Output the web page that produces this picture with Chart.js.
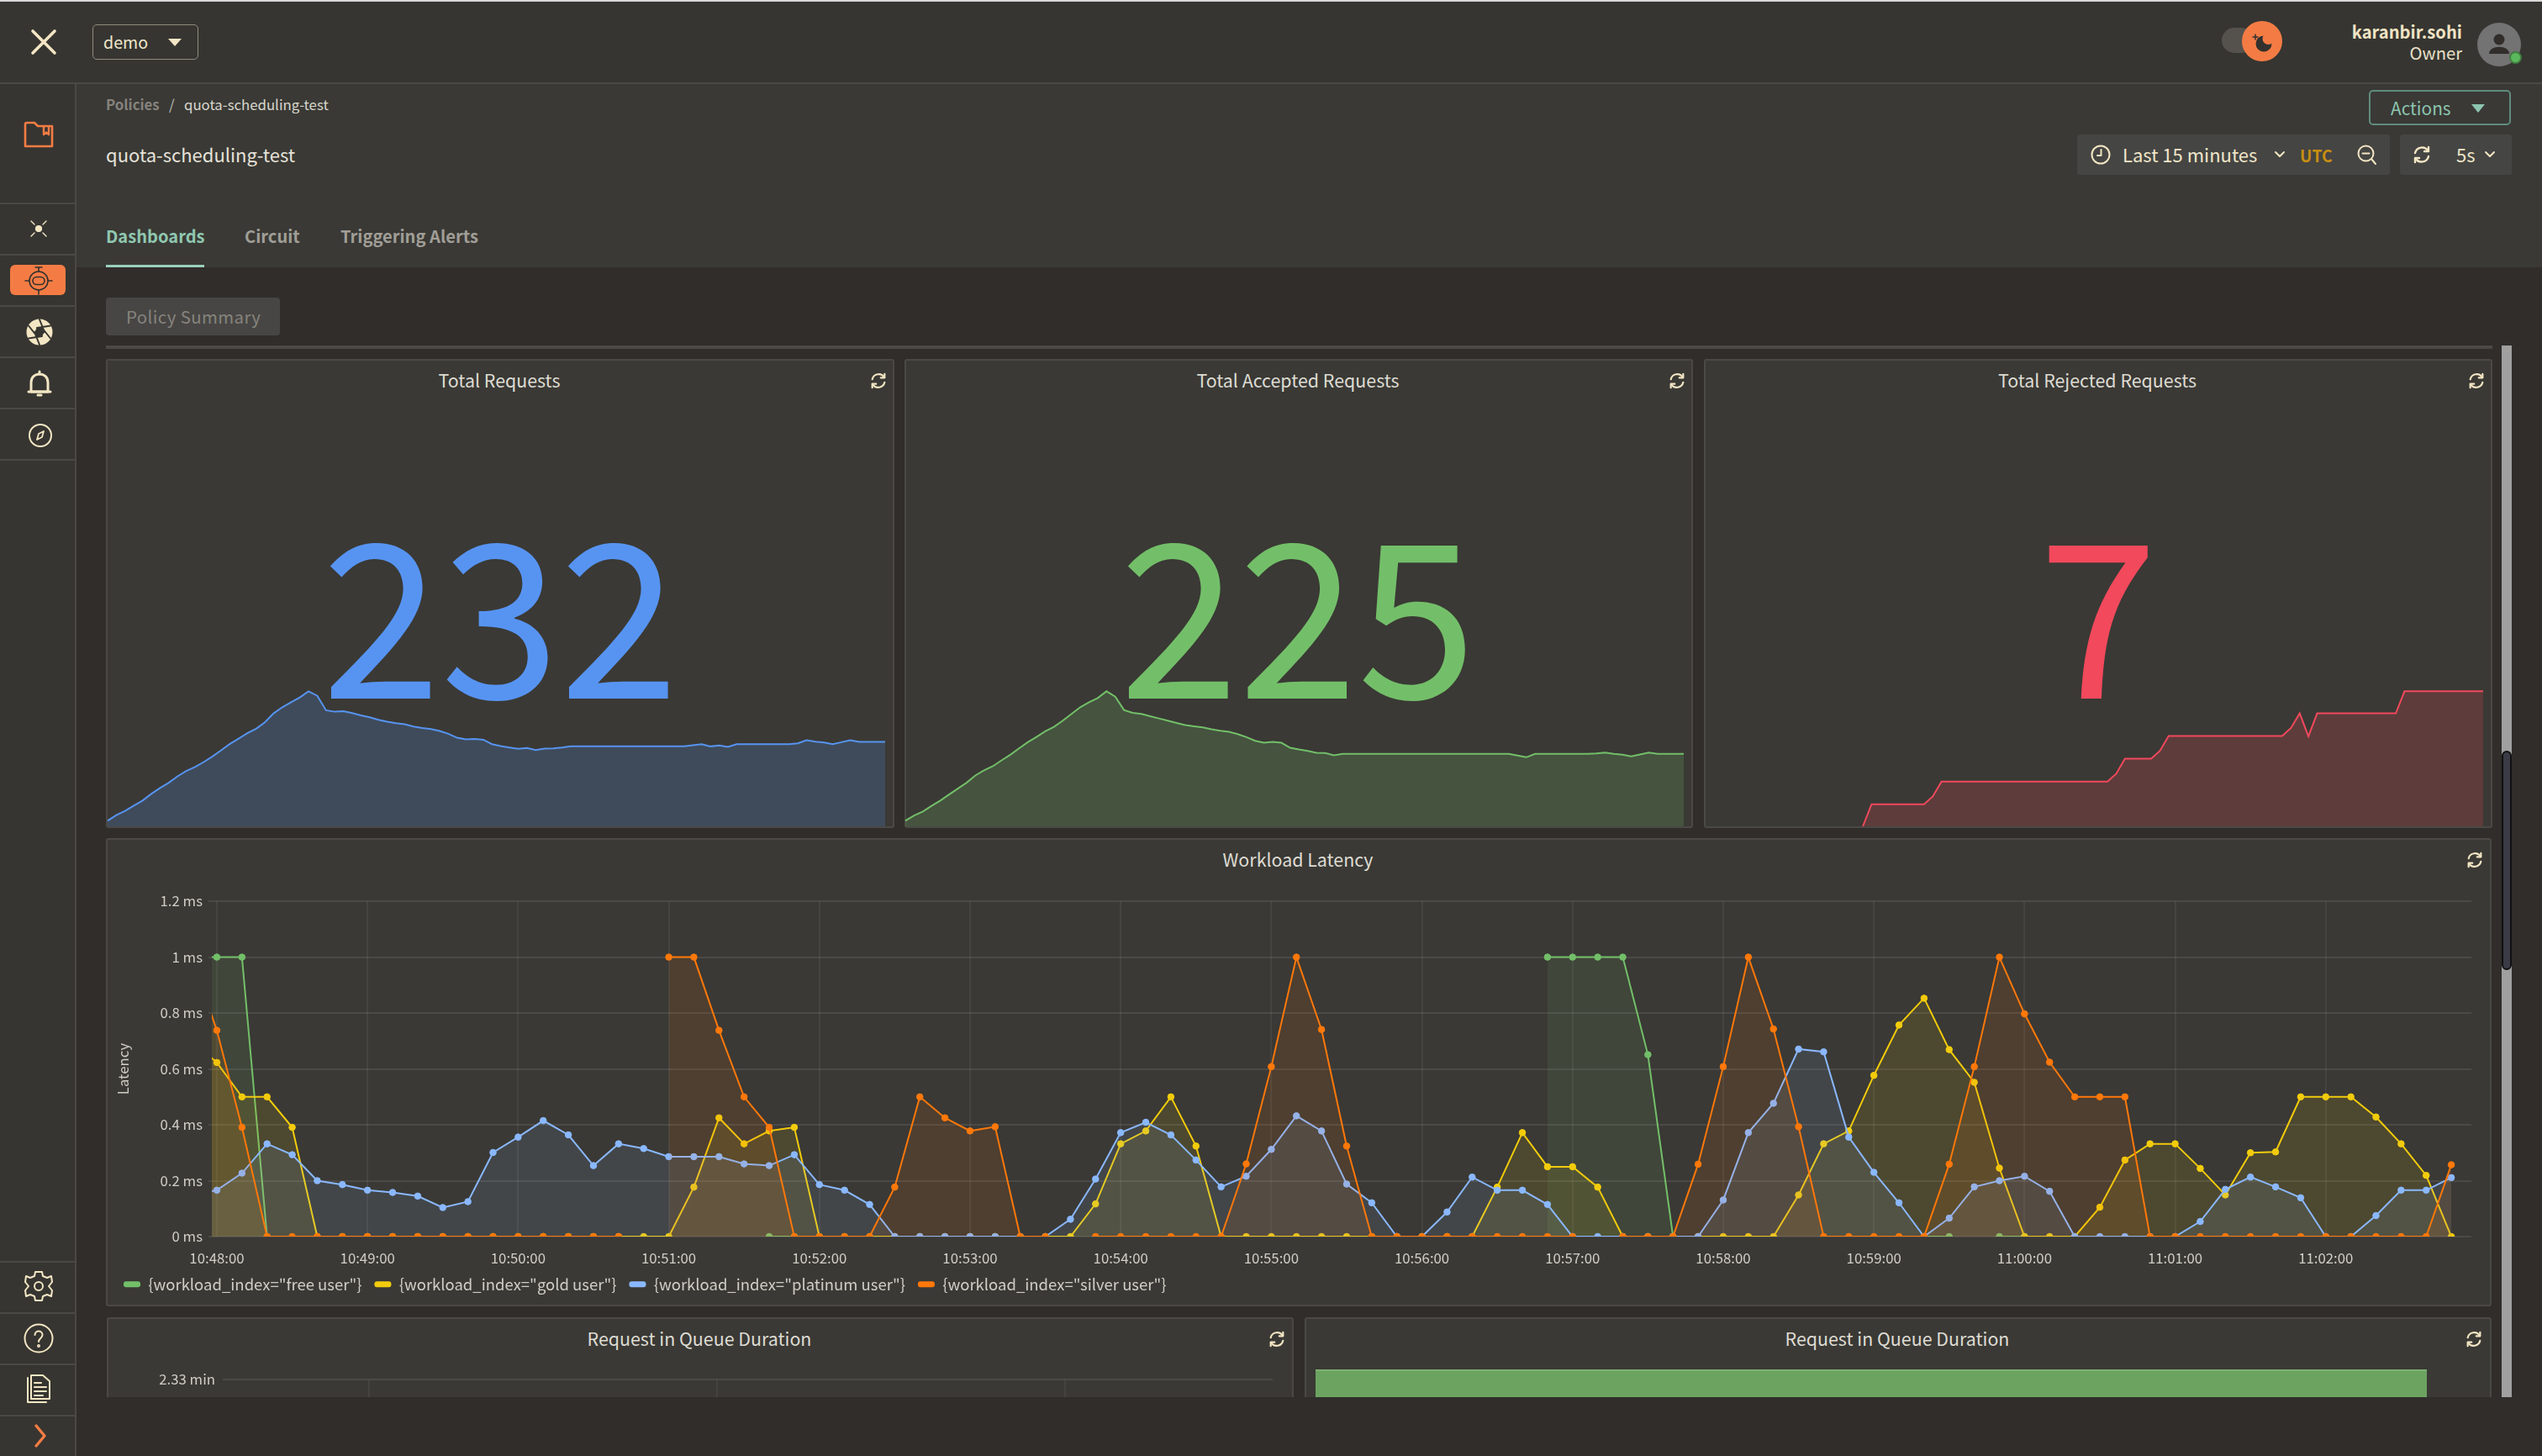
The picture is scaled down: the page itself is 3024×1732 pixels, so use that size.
<!DOCTYPE html>
<html>
<head>
<meta charset="utf-8">
<title>quota-scheduling-test</title>
<script src="https://cdn.jsdelivr.net/npm/chart.js@4"></script>
<style>
  html, body { margin: 0; width: 3024px; height: 1732px; overflow: hidden; background: #302d2a; font-family: "Noto Sans CJK SC", "Noto Sans", sans-serif; color: #e6e3da; }
  .abs { position: absolute; white-space: nowrap; }
  .panel { position: absolute; box-sizing: border-box; background: #3a3935; border: 2px solid #4a4945; border-radius: 3px; }
  .ptitle { position: absolute; font-size: 21.4px; line-height: 30px; transform: translateX(-50%); white-space: nowrap; color: #dedcd3; }
  .big { position: absolute; font-size: 255px; line-height: 300px; transform: translateX(-50%); white-space: nowrap; }
  .sep { position: absolute; left: 0; width: 89px; height: 2px; background: #4a4945; }
  svg { position: absolute; overflow: visible; fill: none; stroke: #f3e6c4; stroke-width: 2.4; stroke-linecap: round; stroke-linejoin: round; }
  canvas { position: absolute; }
</style>
</head>
<body>
<svg width="0" height="0" style="display:none">
  <symbol id="refresh" viewBox="0 0 24 24" overflow="visible">
    <path d="M4 10 A8.5 8.5 0 0 1 19.5 7.5"/><path d="M20 3 L20 8 L15 8"/>
    <path d="M20 14 A8.5 8.5 0 0 1 4.5 16.5"/><path d="M4 21 L4 16 L9 16"/>
  </symbol>
</svg>

<!-- top bar -->
<div class="abs" style="left:0;top:0;width:3024px;height:2px;background:#d8d8d8"></div>
<div class="abs" style="left:0;top:2px;width:3024px;height:96px;background:#363531"></div>
<div class="abs" style="left:0;top:98px;width:3024px;height:2px;background:#4a4945"></div>
<svg style="left:38px;top:36px" width="28" height="28" stroke-width="3.4"><path d="M1 1 L27 27 M27 1 L1 27" style="stroke-width:3.6"/></svg>
<div class="abs" style="left:110px;top:29px;width:126px;height:42px;box-sizing:border-box;border:1.5px solid #8f8b7c;border-radius:5px"></div>
<div class="abs" style="left:123px;top:33px;font-size:19.6px;line-height:34px;color:#f0e6c8">demo</div>
<svg style="left:200px;top:46px" width="16" height="9"><path d="M0 0 L16 0 L8 9 Z" style="fill:#f3e6c4;stroke:none"/></svg>

<div class="abs" style="left:2643px;top:33px;width:38px;height:30px;background:#55524d;border-radius:15px"></div>
<div class="abs" style="left:2667px;top:25px;width:48px;height:48px;background:#f47c44;border-radius:50%"></div>
<svg style="left:2676px;top:35px" width="30" height="30"><circle cx="17" cy="17" r="9.5" style="fill:#33312e;stroke:none"/><circle cx="22.5" cy="11" r="7" style="fill:#f47c44;stroke:none"/><path d="M7 6 L7 12 M4 9 L10 9" style="stroke:#33312e;stroke-width:1.5"/></svg>
<div class="abs" style="right:95px;top:22px;font-size:20.2px;line-height:32px;font-weight:700;color:#f1e4c4">karanbir.sohi</div>
<div class="abs" style="right:95px;top:47px;font-size:20.2px;line-height:32px;color:#e8e0c8">Owner</div>
<div class="abs" style="left:2947px;top:27px;width:52px;height:52px;background:#737373;border-radius:50%"></div>
<svg style="left:2958px;top:38px" width="30" height="30"><circle cx="15" cy="9" r="6.5" style="fill:#302d2a;stroke:none"/><path d="M3 26 C3 15 27 15 27 26 Z" style="fill:#302d2a;stroke:none"/></svg>
<div class="abs" style="left:2985px;top:61px;width:15px;height:15px;background:#5cb85c;border:2px solid #3f7d3f;border-radius:50%;box-sizing:border-box"></div>

<!-- sidebar -->
<div class="abs" style="left:0;top:100px;width:89px;height:1632px;background:#363531"></div>
<div class="abs" style="left:89px;top:100px;width:2px;height:1632px;background:#4a4945"></div>
<div class="sep" style="top:241px"></div><div class="sep" style="top:302px"></div><div class="sep" style="top:363px"></div>
<div class="sep" style="top:424px"></div><div class="sep" style="top:485px"></div><div class="sep" style="top:546px"></div>
<div class="sep" style="top:1500px"></div><div class="sep" style="top:1561px"></div><div class="sep" style="top:1622px"></div><div class="sep" style="top:1683px"></div>
<svg style="left:28px;top:144px" width="36" height="32"><path d="M2 4 Q2 2 4 2 L13 2 L17 6 L34 6 L34 30 L2 30 Z" style="stroke:#f47c44;stroke-width:2.6"/><path d="M24 7 L24 16 L27 13.5 L30 16 L30 7" style="stroke:#f47c44"/></svg>
<svg style="left:36px;top:262px" width="20" height="20"><circle cx="10" cy="10" r="3.5" style="fill:#f3e6c4;stroke-width:1.2"/><path d="M1 1 L5 5 M19 1 L15 5 M1 19 L5 15 M19 19 L15 15" style="stroke-width:1.4"/></svg>
<div class="abs" style="left:12px;top:315px;width:66px;height:36px;background:#f47c44;border-radius:6px"></div>
<svg style="left:29px;top:317px" width="34" height="34"><g style="stroke:#33312e;stroke-width:1.6"><circle cx="17" cy="17" r="11"/><path d="M17 1 L17 6 M13 1 L21 1 M17 28 L17 33 M1 17 L6 17 M28 17 L33 17"/><rect x="10" y="12.5" width="14" height="9" rx="4.5"/></g></svg>
<svg style="left:31px;top:379px" width="32" height="32"><circle cx="16" cy="16" r="15.5" style="fill:#f3e6c4;stroke:none"/><path d="M16 1 L22 16 M29 8.5 L13 11 M29 23.5 L19 11 M16 31 L10 16 M3 23.5 L19 21 M3 8.5 L13 21" style="stroke:#363531;stroke-width:2"/><path d="M19 11 L22 16 L19 21 L13 21 L10 16 L13 11 Z" style="fill:#363531;stroke:none"/></svg>
<svg style="left:34px;top:442px" width="26" height="30"><path d="M3 24 L3 13 C3 6 8 3 13 3 C18 3 23 6 23 13 L23 24 Z" style="stroke-width:3"/><path d="M0 24 L26 24 M13 0 L13 3 M11 28 L15 28" style="stroke-width:3"/></svg>
<svg style="left:34px;top:504px" width="28" height="28"><circle cx="14" cy="14" r="13" style="stroke-width:2"/><path d="M18 9 L16 16 L10 19 L12 12 Z" style="stroke-width:1.8"/></svg>
<svg style="left:29px;top:1512px" width="34" height="36"><path d="M13 1 L21 1 L22 6 L27 8 L32 6 L33 13 L29 18 L33 23 L32 30 L27 28 L22 30 L21 35 L13 35 L12 30 L7 28 L2 30 L1 23 L5 18 L1 13 L2 6 L7 8 L12 6 Z" style="stroke-width:2"/><circle cx="17" cy="18" r="5" style="stroke-width:2"/></svg>
<svg style="left:29px;top:1575px" width="34" height="34"><circle cx="17" cy="17" r="16.5" style="stroke-width:2"/><path d="M12.5 13 C12.5 7 21.5 7 21.5 13 C21.5 17 17 17 17 21" style="stroke-width:2"/><circle cx="17" cy="26" r=".8"/></svg>
<svg style="left:31px;top:1635px" width="30" height="34"><path d="M2 4 L2 33 L24 33" style="stroke-width:2"/><path d="M6 1 L20 1 L28 8 L28 29 L6 29 Z" style="stroke-width:2"/><path d="M10 10 L18 10 M10 15 L24 15 M10 20 L24 20 M10 25 L20 25" style="stroke-width:2"/></svg>
<svg style="left:41px;top:1695px" width="14" height="26"><path d="M2 1 L12 13 L2 25" style="stroke:#f47c44;stroke-width:3.4"/></svg>

<!-- page header -->
<div class="abs" style="left:91px;top:100px;width:2933px;height:218px;background:#3a3935"></div>
<div class="abs" style="left:126px;top:110px;font-size:16.8px;line-height:28px;font-weight:700;color:#85837d">Policies</div>
<div class="abs" style="left:201px;top:110px;font-size:17px;line-height:28px;color:#bdbbb2">/</div>
<div class="abs" style="left:219px;top:110px;font-size:16.8px;line-height:28px;color:#d8d6cc">quota-scheduling-test</div>
<div class="abs" style="left:126px;top:165px;font-size:22px;line-height:36px;color:#e6e3da">quota-scheduling-test</div>
<div class="abs" style="left:126px;top:264px;font-size:20.1px;line-height:34px;font-weight:700;color:#8fc7b0">Dashboards</div>
<div class="abs" style="left:291px;top:264px;font-size:20.1px;line-height:34px;font-weight:700;color:#a09e97">Circuit</div>
<div class="abs" style="left:405px;top:264px;font-size:20.1px;line-height:34px;font-weight:700;color:#a09e97">Triggering Alerts</div>
<div class="abs" style="left:126px;top:315px;width:117px;height:3px;background:#9ad0bb"></div>

<div class="abs" style="left:2818px;top:107px;width:169px;height:42px;box-sizing:border-box;border:2px solid #5f8c7d;border-radius:5px"></div>
<div class="abs" style="left:2844px;top:112px;font-size:20.8px;line-height:32px;color:#8cc5b0">Actions</div>
<svg style="left:2940px;top:124px" width="16" height="10"><path d="M0 0 L16 0 L8 10 Z" style="fill:#8cc5b0;stroke:none"/></svg>

<div class="abs" style="left:2471px;top:160px;width:372px;height:48px;background:#454543;border-radius:3px"></div>
<div class="abs" style="left:2855px;top:160px;width:133px;height:48px;background:#454543;border-radius:3px"></div>
<svg style="left:2488px;top:173px" width="22" height="22"><circle cx="11" cy="11" r="10.5" style="stroke-width:2"/><path d="M11.5 5 L11.5 12 L7 12" style="stroke-width:2"/></svg>
<div class="abs" style="left:2525px;top:166px;font-size:22px;line-height:34px;color:#f0e6c8">Last 15 minutes</div>
<svg style="left:2707px;top:181px" width="10" height="6"><path d="M0 0 L5 5 L10 0" style="stroke-width:2"/></svg>
<div class="abs" style="left:2736px;top:168px;font-size:19.3px;line-height:34px;font-weight:700;color:#c88e10">UTC</div>
<svg style="left:2805px;top:173px" width="22" height="24"><circle cx="9.5" cy="9.5" r="9" style="stroke-width:2"/><path d="M5.5 9.5 L13.5 9.5 M16 16 L21 22" style="stroke-width:2"/></svg>
<svg style="left:2869px;top:172px" width="24" height="24"><use href="#refresh"/></svg>
<div class="abs" style="left:2922px;top:166px;font-size:22px;line-height:34px;color:#f0e6c8">5s</div>
<svg style="left:2957px;top:181px" width="10" height="6"><path d="M0 0 L5 5 L10 0" style="stroke-width:2"/></svg>

<!-- tab bar -->
<div class="abs" style="left:126px;top:354px;width:207px;height:45px;background:#474644;border-radius:4px"></div>
<div class="abs" style="left:150px;top:359px;font-size:20.4px;line-height:34px;letter-spacing:.4px;color:#85837d">Policy Summary</div>
<div class="abs" style="left:126px;top:411px;width:2839px;height:4px;background:#4a4945"></div>

<!-- everything below is cut at the end of the scroll area -->
<div class="abs" style="left:0;top:0;width:3024px;height:1662px;overflow:hidden;pointer-events:none">
  <div class="panel" style="left:126px;top:427px;width:938px;height:558px"></div>
  <div class="panel" style="left:1076px;top:427px;width:938px;height:558px"></div>
  <div class="panel" style="left:2027px;top:427px;width:938px;height:558px"></div>
  <div class="panel" style="left:126px;top:997px;width:2838px;height:557px"></div>
  <div class="panel" style="left:127px;top:1567px;width:1412px;height:200px"></div>
  <div class="panel" style="left:1552px;top:1567px;width:1412px;height:200px"></div>

  <div class="ptitle" style="left:594px;top:437px">Total Requests</div>
  <div class="ptitle" style="left:1544px;top:437px">Total Accepted Requests</div>
  <div class="ptitle" style="left:2495px;top:437px">Total Rejected Requests</div>
  <div class="ptitle" style="left:1544px;top:1007px">Workload Latency</div>
  <div class="ptitle" style="left:832px;top:1577px">Request in Queue Duration</div>
  <div class="ptitle" style="left:2257px;top:1577px">Request in Queue Duration</div>

  <svg style="left:1034px;top:442px" width="22" height="22"><use href="#refresh"/></svg>
  <svg style="left:1984px;top:442px" width="22" height="22"><use href="#refresh"/></svg>
  <svg style="left:2935px;top:442px" width="22" height="22"><use href="#refresh"/></svg>
  <svg style="left:2933px;top:1012px" width="22" height="22"><use href="#refresh"/></svg>
  <svg style="left:1508px;top:1582px" width="22" height="22"><use href="#refresh"/></svg>
  <svg style="left:2932px;top:1582px" width="22" height="22"><use href="#refresh"/></svg>

  <canvas id="spark-total" style="left:125px;top:819px" width="931" height="167"></canvas>
  <canvas id="spark-accepted" style="left:1074px;top:819px" width="932" height="167"></canvas>
  <canvas id="spark-rejected" style="left:2026px;top:819px" width="931" height="167"></canvas>

  <div class="big" style="left:595px;top:570px;color:#5794f2">232</div>
  <div class="big" style="left:1544px;top:570px;color:#73bf69">225</div>
  <div class="big" style="left:2496px;top:570px;color:#f2495c">7</div>

  <canvas id="latency-chart" style="left:132px;top:1055px" width="2830" height="492"></canvas>
  <canvas id="queue-line" style="left:160px;top:1622px" width="1354" height="200"></canvas>
  <canvas id="queue-bar" style="left:1565px;top:1629px" width="1322" height="120"></canvas>
</div>

<!-- scrollbar -->
<div class="abs" style="left:2976px;top:411px;width:12px;height:1251px;background:#a0a0a0"></div>
<div class="abs" style="left:2976px;top:893px;width:12px;height:261px;box-sizing:border-box;background:#3b3b47;border:2px solid #111;border-radius:6px"></div>

<script>
// 10 second samples, the first one falls just left of the visible window
const sampleTimes = ['10:47:50',
    '10:48:00', '10:48:10', '10:48:20', '10:48:30', '10:48:40', '10:48:50',
    '10:49:00', '10:49:10', '10:49:20', '10:49:30', '10:49:40', '10:49:50',
    '10:50:00', '10:50:10', '10:50:20', '10:50:30', '10:50:40', '10:50:50',
    '10:51:00', '10:51:10', '10:51:20', '10:51:30', '10:51:40', '10:51:50',
    '10:52:00', '10:52:10', '10:52:20', '10:52:30', '10:52:40', '10:52:50',
    '10:53:00', '10:53:10', '10:53:20', '10:53:30', '10:53:40', '10:53:50',
    '10:54:00', '10:54:10', '10:54:20', '10:54:30', '10:54:40', '10:54:50',
    '10:55:00', '10:55:10', '10:55:20', '10:55:30', '10:55:40', '10:55:50',
    '10:56:00', '10:56:10', '10:56:20', '10:56:30', '10:56:40', '10:56:50',
    '10:57:00', '10:57:10', '10:57:20', '10:57:30', '10:57:40', '10:57:50',
    '10:58:00', '10:58:10', '10:58:20', '10:58:30', '10:58:40', '10:58:50',
    '10:59:00', '10:59:10', '10:59:20', '10:59:30', '10:59:40', '10:59:50',
    '11:00:00', '11:00:10', '11:00:20', '11:00:30', '11:00:40', '11:00:50',
    '11:01:00', '11:01:10', '11:01:20', '11:01:30', '11:01:40', '11:01:50',
    '11:02:00', '11:02:10', '11:02:20', '11:02:30', '11:02:40', '11:02:50'];
const minuteTicks = ['10:48:00', '10:49:00', '10:50:00', '10:51:00', '10:52:00', '10:53:00', '10:54:00', '10:55:00',
    '10:56:00', '10:57:00', '10:58:00', '10:59:00', '11:00:00', '11:01:00', '11:02:00'];
const windowStart = '10:47:58';
const windowEnd = '11:02:58';

// latency in ms, one row per minute
const freeUser = [1,
    1, 1, 0, null, null, null,
    null, null, null, null, null, null,
    null, null, null, null, null, null,
    null, null, null, null, 0, 0,
    null, null, null, null, null, null,
    null, null, null, null, null, null,
    null, null, null, null, null, null,
    null, null, null, null, null, null,
    null, null, null, null, null, 1,
    1, 1, 1, 0.651, 0, null,
    null, null, null, null, null, null,
    null, null, 0, 0, null, 0,
    0, null, null, null, null, null,
    null, null, null, null, null, null,
    null, null, null, null, null, null];
const goldUser = [0.7,
    0.623, 0.5, 0.5, 0.391, 0, 0,
    0, 0, 0, 0, 0, 0,
    0, 0, 0, 0, 0, 0,
    0, 0.177, 0.425, 0.332, 0.378, 0.391,
    0, 0, 0, 0, 0, 0,
    0, 0, 0, 0, 0, 0.117,
    0.332, 0.378, 0.5, 0.324, 0, 0,
    0, 0, 0, 0, 0, 0,
    0, 0, 0, 0.177, 0.372, 0.25,
    0.25, 0.177, 0, 0, 0, 0,
    0, 0, 0, 0.149, 0.332, 0.378,
    0.577, 0.757, 0.853, 0.669, 0.552, 0.245,
    0, 0, 0, 0.105, 0.274, 0.332,
    0.332, 0.244, 0.149, 0.3, 0.303, 0.5,
    0.5, 0.5, 0.428, 0.332, 0.219, 0];
const platinumUser = [0.15,
    0.166, 0.227, 0.332, 0.293, 0.2, 0.186,
    0.166, 0.158, 0.145, 0.104, 0.125, 0.301,
    0.356, 0.415, 0.364, 0.254, 0.332, 0.315,
    0.286, 0.286, 0.286, 0.26, 0.254, 0.293,
    0.186, 0.166, 0.115, 0, 0, 0,
    0, 0, 0, 0, 0.062, 0.206,
    0.372, 0.409, 0.364, 0.274, 0.178, 0.216,
    0.312, 0.432, 0.378, 0.188, 0.121, 0,
    0, 0.088, 0.213, 0.166, 0.166, 0.115,
    0, 0, 0, 0, 0, 0,
    0.131, 0.372, 0.477, 0.671, 0.661, 0.356,
    0.23, 0.121, 0, 0.066, 0.178, 0.2,
    0.216, 0.162, 0, 0, 0, 0,
    0, 0.054, 0.169, 0.213, 0.178, 0.139,
    0, 0, 0.075, 0.166, 0.166, 0.211];
const silverUser = [1,
    0.738, 0.391, 0, 0, 0, 0,
    0, 0, 0, 0, 0, 0,
    0, 0, 0, 0, 0, null,
    1, 1, 0.738, 0.5, 0.391, 0,
    0, 0, 0, 0.177, 0.5, 0.425,
    0.378, 0.393, 0, 0, null, 0,
    0, 0, 0, 0, 0, 0.26,
    0.608, 1, 0.741, 0.324, 0, 0,
    0, 0, 0, 0, 0, 0,
    0, null, 0, 0, 0, 0.259,
    0.608, 1, 0.743, 0.393, 0, 0,
    0, 0, 0, 0.259, 0.608, 1,
    0.797, 0.624, 0.5, 0.5, 0.5, 0,
    0, 0, 0, 0, 0, 0,
    0, 0, 0, 0, 0, 0.257];

// request rate behind the stat panels
const totalRequests = [
    0.20, 0.40, 0.55, 0.74, 0.92, 1.16, 1.37, 1.56, 1.79, 1.98, 2.12, 2.30, 2.50, 2.72, 2.95, 3.14, 3.33, 3.49,
    3.72, 4.04, 4.26, 4.44, 4.61, 4.83, 4.67, 4.15, 4.10, 4.12, 4.05, 3.97, 3.90, 3.81, 3.74, 3.69, 3.65, 3.57,
    3.52, 3.48, 3.41, 3.31, 3.17, 3.11, 3.13, 3.10, 2.94, 2.87, 2.82, 2.77, 2.80, 2.73, 2.78, 2.79, 2.82, 2.86,
    2.86, 2.86, 2.86, 2.86, 2.86, 2.86, 2.86, 2.86, 2.86, 2.86, 2.86, 2.86, 2.86, 2.90, 2.94, 2.86, 2.89, 2.84,
    2.94, 2.94, 2.94, 2.94, 2.94, 2.94, 2.94, 2.97, 3.08, 3.03, 3.00, 2.94, 3.01, 3.08, 3.02, 3.02, 3.02, 3.02];
const acceptedRequests = [
    0.20, 0.39, 0.53, 0.73, 0.92, 1.14, 1.35, 1.56, 1.82, 2.00, 2.15, 2.36, 2.56, 2.79, 3.01, 3.20, 3.40, 3.56,
    3.78, 4.02, 4.26, 4.44, 4.59, 4.83, 4.64, 4.16, 4.06, 4.02, 3.94, 3.86, 3.78, 3.70, 3.62, 3.58, 3.54, 3.47,
    3.42, 3.38, 3.30, 3.19, 3.06, 2.99, 3.02, 2.99, 2.81, 2.75, 2.70, 2.63, 2.62, 2.54, 2.59, 2.59, 2.59, 2.59,
    2.59, 2.59, 2.59, 2.59, 2.59, 2.59, 2.59, 2.59, 2.59, 2.59, 2.59, 2.59, 2.59, 2.59, 2.59, 2.59, 2.53, 2.47,
    2.59, 2.59, 2.59, 2.59, 2.59, 2.59, 2.59, 2.61, 2.64, 2.59, 2.56, 2.50, 2.57, 2.64, 2.59, 2.59, 2.59, 2.59];
const rejectedRequests = [
    null, null, null, null, null, null, null, null, null, null, null, null, null, null, null, null, null, null,
    0, 0.79, 0.79, 0.79, 0.79, 0.79, 0.79, 0.79, 1.07, 1.60, 1.60, 1.60, 1.60, 1.60, 1.60, 1.60, 1.60, 1.60,
    1.60, 1.60, 1.60, 1.60, 1.60, 1.60, 1.60, 1.60, 1.60, 1.60, 1.60, 1.88, 2.42, 2.42, 2.42, 2.42, 2.70, 3.23,
    3.23, 3.23, 3.23, 3.23, 3.23, 3.23, 3.23, 3.23, 3.23, 3.23, 3.23, 3.23, 3.23, 3.52, 4.04, 3.22, 4.04, 4.04,
    4.04, 4.04, 4.04, 4.04, 4.04, 4.04, 4.04, 4.04, 4.83, 4.83, 4.83, 4.83, 4.83, 4.83, 4.83, 4.83, 4.83, 4.83];
const sparkMax = 4.84;

// what is left of the two cut off panels
const queueTopTick = [2.33];
const queueGridMinutes = [3, 6, 9];
const queueBarValues = [1];

const TICK_FONT = { family: '"Noto Sans CJK SC"', size: 16.8 };
const TEXT_COLOR = '#cfcdc4';

function toSeconds(t) {
    const p = t.split(':').map(Number);
    return p[0] * 3600 + p[1] * 60 + p[2];
}

function formatTime(sec) {
    const h = Math.floor(sec / 3600);
    const m = Math.floor(sec / 60) % 60;
    const s = sec % 60;
    return [h, m, s].map(v => String(v).padStart(2, '0')).join(':');
}

function latencySet(label, values, color, fill, order) {
    return {
        label: label,
        data: values.map((v, i) => ({ x: toSeconds(sampleTimes[i]), y: v })),
        borderColor: color,
        backgroundColor: fill,
        pointBackgroundColor: color,
        pointBorderColor: color,
        pointRadius: 3.8,
        pointBorderWidth: 1,
        borderWidth: 2,
        tension: 0,
        fill: 'origin',
        spanGaps: false,
        order: order
    };
}

function renderLatency() {
    new Chart(document.getElementById('latency-chart'), {
        type: 'line',
        data: {
            datasets: [
                latencySet('{workload_index="free user"}', freeUser, '#73bf69', 'rgba(115,191,105,0.1)', 4),
                latencySet('{workload_index="gold user"}', goldUser, '#f2cc0c', 'rgba(242,204,12,0.1)', 3),
                latencySet('{workload_index="platinum user"}', platinumUser, '#8ab8ff', 'rgba(138,184,255,0.1)', 2),
                latencySet('{workload_index="silver user"}', silverUser, '#ff780a', 'rgba(255,120,10,0.1)', 1)
            ]
        },
        options: {
            responsive: false,
            animation: false,
            layout: { padding: { top: 3, right: 22, bottom: 0, left: 0 } },
            plugins: {
                legend: {
                    position: 'bottom',
                    align: 'start',
                    labels: {
                        color: TEXT_COLOR,
                        font: { family: '"Noto Sans CJK SC"', size: 18.5 },
                        boxWidth: 20,
                        boxHeight: 7,
                        padding: 15,
                        useBorderRadius: true,
                        borderRadius: 3,
                        generateLabels: chart => chart.data.datasets.map((d, i) => ({
                            text: d.label, fillStyle: d.borderColor, strokeStyle: d.borderColor,
                            lineWidth: 0, borderRadius: 3, fontColor: TEXT_COLOR, datasetIndex: i
                        }))
                    }
                },
                tooltip: { enabled: false }
            },
            scales: {
                x: {
                    type: 'linear',
                    min: toSeconds(windowStart),
                    max: toSeconds(windowEnd),
                    afterBuildTicks: axis => { axis.ticks = minuteTicks.map(t => ({ value: toSeconds(t) })); },
                    afterFit: axis => { axis.height = 32.5; },
                    grid: { color: 'rgba(255,255,255,0.06)', lineWidth: 2, drawTicks: false },
                    border: { display: false },
                    ticks: {
                        color: TEXT_COLOR, font: TICK_FONT, padding: 16, maxRotation: 0, autoSkip: false,
                        callback: v => formatTime(v)
                    }
                },
                y: {
                    min: 0,
                    max: 1.2,
                    afterFit: axis => { axis.width = 120; },
                    title: { display: true, text: 'Latency', color: TEXT_COLOR, font: TICK_FONT, padding: { top: 5, bottom: 0 } },
                    grid: { color: 'rgba(255,255,255,0.09)', lineWidth: 2, tickLength: 4 },
                    border: { display: false },
                    ticks: {
                        stepSize: 0.2, color: TEXT_COLOR, font: TICK_FONT, padding: 7,
                        callback: v => `${+v.toFixed(1)} ms`
                    }
                }
            }
        }
    });
}

function renderSpark(id, values, color, fill) {
    new Chart(document.getElementById(id), {
        type: 'line',
        data: {
            labels: sampleTimes.slice(1),
            datasets: [{ data: values, borderColor: color, backgroundColor: fill, borderWidth: 2, pointRadius: 0, tension: 0, fill: 'origin', clip: false }]
        },
        options: {
            responsive: false,
            animation: false,
            layout: { padding: 3 },
            plugins: { legend: { display: false }, tooltip: { enabled: false } },
            scales: {
                x: { display: false, offset: false },
                y: { display: false, min: 0, max: sparkMax }
            }
        }
    });
}

function renderQueueLine() {
    new Chart(document.getElementById('queue-line'), {
        type: 'line',
        data: { datasets: [{ data: [] }] },
        options: {
            responsive: false,
            animation: false,
            layout: { padding: { top: 2 } },
            plugins: { legend: { display: false }, tooltip: { enabled: false } },
            scales: {
                x: {
                    type: 'linear', min: 1.74, max: 10.79,
                    afterBuildTicks: axis => { axis.ticks = queueGridMinutes.map(v => ({ value: v })); },
                    grid: { color: 'rgba(255,255,255,0.05)', lineWidth: 2, drawTicks: false },
                    border: { display: false },
                    ticks: { display: false }
                },
                y: {
                    min: 0, max: queueTopTick[0],
                    afterBuildTicks: axis => { axis.ticks = queueTopTick.map(v => ({ value: v })); },
                    afterFit: axis => { axis.width = 105; },
                    grid: { color: 'rgba(255,255,255,0.09)', lineWidth: 2, drawTicks: false },
                    border: { display: false },
                    ticks: { color: TEXT_COLOR, font: TICK_FONT, padding: 9, callback: v => `${v} min` }
                }
            }
        }
    });
}

function renderQueueBar() {
    new Chart(document.getElementById('queue-bar'), {
        type: 'bar',
        data: {
            labels: ['Request in Queue Duration'],
            datasets: [{ data: queueBarValues, backgroundColor: '#6ca361', borderColor: '#7fb574', borderWidth: { top: 2 }, barPercentage: 1, categoryPercentage: 1 }]
        },
        options: {
            indexAxis: 'y',
            responsive: false,
            animation: false,
            plugins: { legend: { display: false }, tooltip: { enabled: false } },
            scales: {
                x: { display: false, min: 0, max: 1 },
                y: { display: false }
            }
        }
    });
}

renderSpark('spark-total', totalRequests, '#5794f2', 'rgba(87,148,242,0.2)');
renderSpark('spark-accepted', acceptedRequests, '#73bf69', 'rgba(115,191,105,0.2)');
renderSpark('spark-rejected', rejectedRequests, '#f2495c', 'rgba(242,73,92,0.2)');
renderLatency();
renderQueueLine();
renderQueueBar();
</script>
</body>
</html>
